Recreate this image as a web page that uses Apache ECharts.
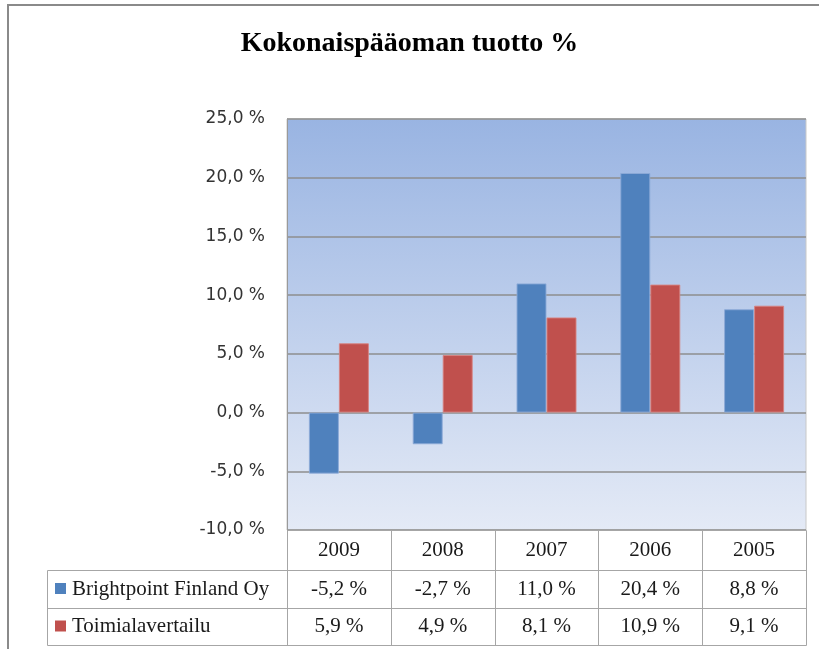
<!DOCTYPE html>
<html><head><meta charset="utf-8">
<script src="https://cdn.jsdelivr.net/npm/echarts@6/dist/echarts.min.js"></script>
<style>html,body{margin:0;padding:0;background:#fff}#c{width:819px;height:649px}</style>
</head><body><div id="c"></div>
<script>
const categories = ['2009', '2008', '2007', '2006', '2005'];
const seriesNames = ['Brightpoint Finland Oy', 'Toimialavertailu'];
const brightpoint = [-5.2, -2.7, 11.0, 20.4, 8.8];
const toimiala = [5.9, 4.9, 8.1, 10.9, 9.1];
const yTicks = [-10, -5, 0, 5, 10, 15, 20, 25];
const colors = ['#4f81bd', '#c0504d'];

const fmt = v => v.toFixed(1).replace('.', ',') + ' %';
const serif = '"Liberation Serif", "DejaVu Serif", serif';

const chart = echarts.init(document.getElementById('c'), null, {renderer: 'canvas'});
const option = {
  animation: false,
  title: {
    text: 'Kokonaispääoman tuotto %',
    left: 'center', top: 25,
    textStyle: {fontFamily: serif, fontSize: 28, fontWeight: 'bold', color: '#000'}
  },
  grid: {
    left: 287, right: 13, top: 119, bottom: 119,
    show: true,
    borderColor: '#c8c8c8', borderWidth: 1,
    backgroundColor: {type: 'linear', x: 0, y: 0, x2: 0, y2: 1,
      colorStops: [{offset: 0, color: '#99b4e2'}, {offset: 1, color: '#e4eaf6'}]}
  },
  xAxis: {
    type: 'category', data: categories,
    axisLine: {show: false}, axisTick: {show: false}, axisLabel: {show: false},
    splitLine: {show: false}
  },
  yAxis: {
    type: 'value', min: yTicks[0], max: yTicks[yTicks.length - 1], interval: 5,
    axisLine: {show: true, lineStyle: {color: '#9a9a9a', width: 1}},
    axisTick: {show: false},
    axisLabel: {formatter: fmt, fontFamily: '"DejaVu Sans", sans-serif', fontSize: 17, color: '#333', margin: 22},
    splitLine: {lineStyle: {color: '#8e8e8e', width: 1.5}}
  },
  series: [
    {name: seriesNames[0], type: 'bar', data: brightpoint, barWidth: 30, barGap: '0%',
     itemStyle: {color: colors[0], borderColor: 'rgba(140,170,215,0.9)', borderWidth: 1}},
    {name: seriesNames[1], type: 'bar', data: toimiala, barWidth: 30, barGap: '0%',
     itemStyle: {color: colors[1], borderColor: 'rgba(215,130,128,0.9)', borderWidth: 1}}
  ]
};
chart.setOption(option);

// Data table below the plot, aligned to the category axis
function buildTable() {
  const n = categories.length;
  const x0 = chart.convertToPixel({gridIndex: 0}, [0, 0]);
  const x1 = chart.convertToPixel({gridIndex: 0}, [1, 0]);
  const step = x1[0] - x0[0];
  const left = x0[0] - step / 2;
  const right = left + step * n;
  const bottomY = chart.convertToPixel({yAxisIndex: 0}, yTicks[0]);
  const rowH = [40, 38, 37];
  const rowTop = [bottomY, bottomY + rowH[0], bottomY + rowH[0] + rowH[1]];
  const tableBottom = rowTop[2] + rowH[2];
  const legendLeft = 47;
  const lineStyle = {stroke: '#a6a6a6', lineWidth: 1};
  const els = [];
  const line = (x1, y1, x2, y2) => els.push({type: 'line', silent: true,
    shape: {x1: Math.round(x1) + 0.5, y1: Math.round(y1) + 0.5, x2: Math.round(x2) + 0.5, y2: Math.round(y2) + 0.5}, style: lineStyle});
  line(left, rowTop[0], right, rowTop[0]);
  line(legendLeft, rowTop[1], right, rowTop[1]);
  line(legendLeft, rowTop[2], right, rowTop[2]);
  line(legendLeft, tableBottom, right, tableBottom);
  line(legendLeft, rowTop[1], legendLeft, tableBottom);
  for (let i = 0; i <= n; i++) line(left + step * i, rowTop[0], left + step * i, tableBottom);
  const textStyle = {fontFamily: serif, fontSize: 21, fill: '#1a1a1a', align: 'center', verticalAlign: 'middle'};
  categories.forEach((c, i) => {
    const cx = chart.convertToPixel({xAxisIndex: 0}, c);
    els.push({type: 'text', silent: true, x: cx, y: rowTop[0] + rowH[0] / 2, style: Object.assign({text: c}, textStyle)});
    els.push({type: 'text', silent: true, x: cx, y: rowTop[1] + rowH[1] / 2, style: Object.assign({text: fmt(brightpoint[i])}, textStyle)});
    els.push({type: 'text', silent: true, x: cx, y: rowTop[2] + rowH[2] / 2, style: Object.assign({text: fmt(toimiala[i])}, textStyle)});
  });
  [brightpoint, toimiala].forEach((s, k) => {
    const cy = rowTop[k + 1] + rowH[k + 1] / 2;
    els.push({type: 'rect', silent: true, shape: {x: legendLeft + 8, y: cy - 6, width: 11, height: 11}, style: {fill: colors[k]}});
    els.push({type: 'text', silent: true, x: legendLeft + 25, y: cy,
      style: Object.assign({}, textStyle, {text: seriesNames[k], align: 'left'})});
  });
  els.push({type: 'rect', silent: true, shape: {x: 8, y: 5, width: 830, height: 660},
    style: {fill: 'none', stroke: '#8a8a8a', lineWidth: 2}});
  chart.setOption({graphic: {elements: els}});
}
buildTable();
</script></body></html>
